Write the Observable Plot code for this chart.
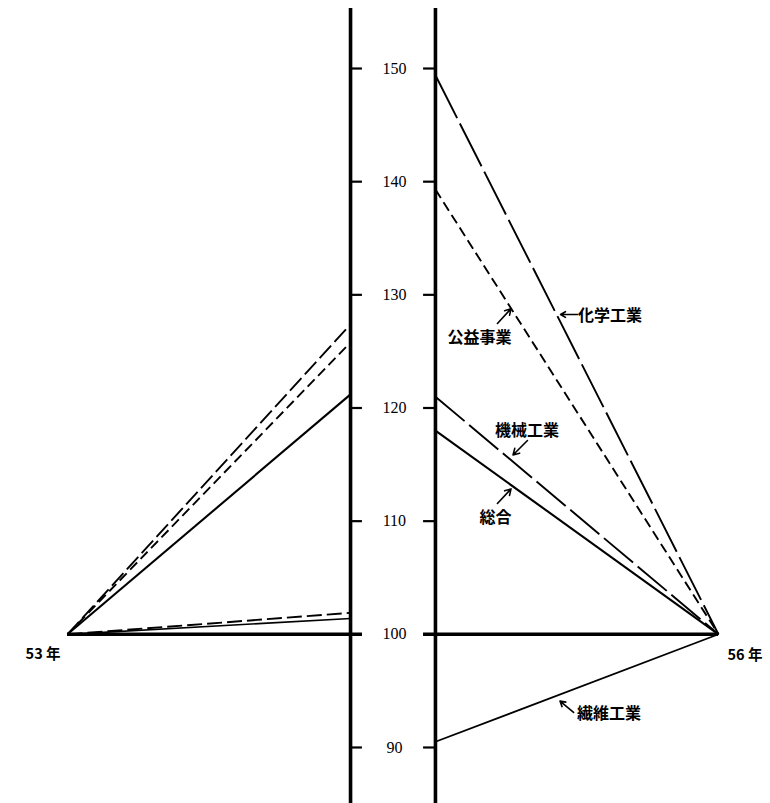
<!DOCTYPE html>
<html><head><meta charset="utf-8">
<script src="https://cdn.jsdelivr.net/npm/d3@7"></script>
<script src="https://cdn.jsdelivr.net/npm/@observablehq/plot@0.6"></script>
<style>body{margin:0;background:#fff}</style>
</head><body><div id="chart"></div>
<script>
// ---- data ----
const series = ["化学工業", "公益事業", "機械工業", "総合", "繊維工業"];
const leftValues = [127.4, 125.8, 101.9, 121.2, 101.4];   // left panel, at the inner axis
const rightValues = [149.4, 139.3, 121.0, 118.0, 90.5];   // right panel, at the inner axis
const yearLabels = ["53 年", "56 年"];
const tickValues = [90, 100, 110, 120, 130, 140, 150];

// ---- layout / style ----
const X0 = 0, XL = 1, XR = 1.3, X1 = 2.3;   // 53年, left axis, right axis, 56年
const style = {
  "化学工業": {dashL: "17,5", dashR: "48,6", w: 1.9},
  "公益事業": {dashL: "10,5", dashR: "10,5", w: 1.9},
  "機械工業": {dashL: "15,5", dashR: "38,6", w: 1.9},
  "総合":     {dashL: null,   dashR: null,   w: 2.1},
  "繊維工業": {dashL: null,   dashR: null,   w: 1.7}
};
const annotations = [
  {t: "化学工業", x: 1.917, y: 128.18, ax1: 1.802, ay1: 128.26, ax2: 1.742, ay2: 128.26},
  {t: "公益事業", x: 1.456, y: 126.23, ax1: 1.519, ay1: 127.47, ax2: 1.567, ay2: 128.78},
  {t: "機械工業", x: 1.623, y: 118.01, ax1: 1.625, ay1: 117.13, ax2: 1.574, ay2: 115.85},
  {t: "総合",     x: 1.512, y: 110.33, ax1: 1.519, ay1: 111.56, ax2: 1.567, ay2: 112.85},
  {t: "繊維工業", x: 1.913, y: 93.01,  ax1: 1.788, ay1: 93.10,  ax2: 1.740, ay2: 94.10}
];

const marks = [];
series.forEach((s, i) => {
  const st = style[s];
  const base = {x1: "x1", y1: "y1", x2: "x2", y2: "y2", stroke: "black", strokeWidth: st.w};
  const optL = {...base}, optR = {...base};
  if (st.dashL) optL.strokeDasharray = st.dashL;
  if (st.dashR) optR.strokeDasharray = st.dashR;
  marks.push(Plot.link([{x1: X0, y1: 100, x2: XL, y2: leftValues[i]}], optL));
  marks.push(Plot.link([{x1: XR, y1: rightValues[i], x2: X1, y2: 100}], optR));
});

const tickLen = 0.042;
marks.push(
  Plot.ruleX([XL, XR], {y1: 85.05, y2: 155.3, stroke: "black", strokeWidth: 3.6}),
  Plot.ruleY([100], {x1: X0, x2: XL + tickLen, stroke: "black", strokeWidth: 3.6}),
  Plot.ruleY([100], {x1: XR - tickLen, x2: X1, stroke: "black", strokeWidth: 3.6}),
  Plot.ruleY(tickValues, {x1: XL, x2: XL + tickLen, stroke: "black", strokeWidth: 2.2}),
  Plot.ruleY(tickValues, {x1: XR - tickLen, x2: XR, stroke: "black", strokeWidth: 2.2}),
  Plot.text(tickValues, {x: (XL + XR) / 2 + 0.005, y: d => d, text: d => String(d),
    fontFamily: "Liberation Serif", fontSize: 16, fill: "black", lineAnchor: "middle"}),
  Plot.text([yearLabels[0]], {x: -0.148, y: 98.22, text: d => d, textAnchor: "start",
    fontFamily: "Noto Sans CJK JP", fontWeight: "bold", fontSize: 14.5, fill: "black", lineAnchor: "middle"}),
  Plot.text([yearLabels[1]], {x: 2.332, y: 98.13, text: d => d, textAnchor: "start",
    fontFamily: "Noto Sans CJK JP", fontWeight: "bold", fontSize: 14.5, fill: "black", lineAnchor: "middle"}),
  Plot.text(annotations, {x: "x", y: "y", text: "t", fontFamily: "Noto Sans CJK JP",
    fontWeight: "bold", fontSize: 16, fill: "black", lineAnchor: "middle"}),
  Plot.arrow(annotations, {x1: "ax1", y1: "ay1", x2: "ax2", y2: "ay2", stroke: "black",
    strokeWidth: 1.6, headLength: 7, bend: 0})
);

const chart = Plot.plot({
  width: 770, height: 803,
  marginTop: 0, marginBottom: 0, marginLeft: 0, marginRight: 0,
  x: {domain: [-0.2367, 2.4837], axis: null},
  y: {domain: [85.05, 156.01], axis: null},
  style: {background: "white", color: "black"},
  marks
});
document.getElementById("chart").appendChild(chart);
</script>
</body></html>
